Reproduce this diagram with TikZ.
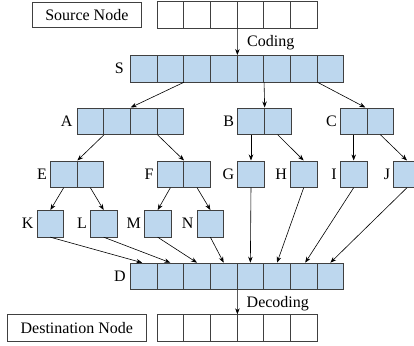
\documentclass[tikz,border=0pt]{standalone}
\usepackage{fontspec}
\setmainfont{Liberation Serif}
\usetikzlibrary{arrows.meta}
\definecolor{cellblue}{HTML}{BDD7EE}
\definecolor{cellline}{HTML}{404040}
\tikzset{
  cell/.style={draw=cellline, line width=0.7pt, minimum width=26.67pt, minimum height=26.5pt, inner sep=0pt, anchor=north west},
  bluecell/.style={cell, fill=cellblue},
  whitecell/.style={cell, fill=white},
  lbl/.style={font=\fontsize{16}{16}\selectfont, inner sep=0pt},
  namebox/.style={draw=cellline, line width=0.7pt, fill=white, font=\fontsize{16}{16}\selectfont, inner sep=0pt, anchor=north west},
  arr/.style={-{Stealth[length=6pt,width=4.5pt]}, line width=0.6pt, black},
}
\begin{document}
\begin{tikzpicture}[x=1pt,y=-1pt]
\useasboundingbox (0,0) rectangle (414,345);
% rows: name / x / y / count / style
\foreach \n/\x/\y/\c/\s in {src/156.7/1.5/6/whitecell, S/130/55/8/bluecell, A/76.7/107.5/4/bluecell, B/237.3/107.5/2/bluecell, C/340/107.5/2/bluecell, E/50/160.5/2/bluecell, F/156.7/160.5/2/bluecell, G/237.3/160.5/1/bluecell, H/290/160.5/1/bluecell, I/340/160.5/1/bluecell, J/393.3/160.5/1/bluecell, K/36.7/210/1/bluecell, L/90/210/1/bluecell, M/144/210/1/bluecell, N/196.7/210/1/bluecell, D/130/262.7/8/bluecell, dst/156.7/314.3/6/whitecell}{
  \foreach \i in {1,...,\c}{
    \node[\s] (\n\i) at ({\x+(\i-1)*26.67},\y) {};
  }
}
% row labels
\foreach \n/\d in {S/6, A/4, B/3, C/3, E/3, F/3, G/3, H/3, I/3, J/3, K/3, L/3, M/3, N/3, D/4}{
  \node[lbl, anchor=east] (lab\n) at ([xshift=-\d pt]\n1.west) {\n};
}
% name boxes
\node[namebox, minimum width=108.4pt, minimum height=25.6pt] (source) at (32.3,1.7) {Source Node};
\node[namebox, minimum width=138.4pt, minimum height=26.4pt] (dest) at (7.3,314.3) {Destination Node};
% coding labels
\coordinate (codpos) at (247,43);
\node[lbl, anchor=west] (coding) at (codpos) {Coding};
\coordinate (decpos) at (246.5,303.3);
\node[lbl, anchor=west] (decoding) at (decpos) {Decoding};
% arrows
\draw[arr] (src3.south east) -- (S4.north east);
\draw[arr] (S2.south east) -- (A2.north east);
\draw[arr] (S5.south east) -- (B1.north east);
\draw[arr] (S7.south east) -- ([xshift=-2pt]C1.north east);
\draw[arr] (A1.south east) -- (E1.north east);
\draw[arr] (A3.south east) -- (F1.north east);
\draw[arr] (B1.south) -- (G1.north);
\draw[arr] (B2.south) -- (H1.north);
\draw[arr] (C1.south) -- (I1.north);
\draw[arr] (C2.south) -- (J1.north);
\draw[arr] (E1.south) -- (K1.north);
\draw[arr] (E2.south) -- (L1.north);
\draw[arr] (F1.south) -- (M1.north);
\draw[arr] (F2.south) -- (N1.north);
\draw[arr] (K1.south) -- ([xshift=-1.5pt]D1.north);
\draw[arr] (L1.south) -- (D2.north);
\draw[arr] (M1.south) -- (D3.north);
\draw[arr] (N1.south) -- (D4.north);
\draw[arr] (G1.south) -- (D5.north);
\draw[arr] (H1.south) -- (D6.north);
\draw[arr] (I1.south) -- ([xshift=1.5pt]D7.north);
\draw[arr] (J1.south) -- (D8.north);
\draw[arr] (D4.south east) -- (dst3.north east);
\end{tikzpicture}
\end{document}
